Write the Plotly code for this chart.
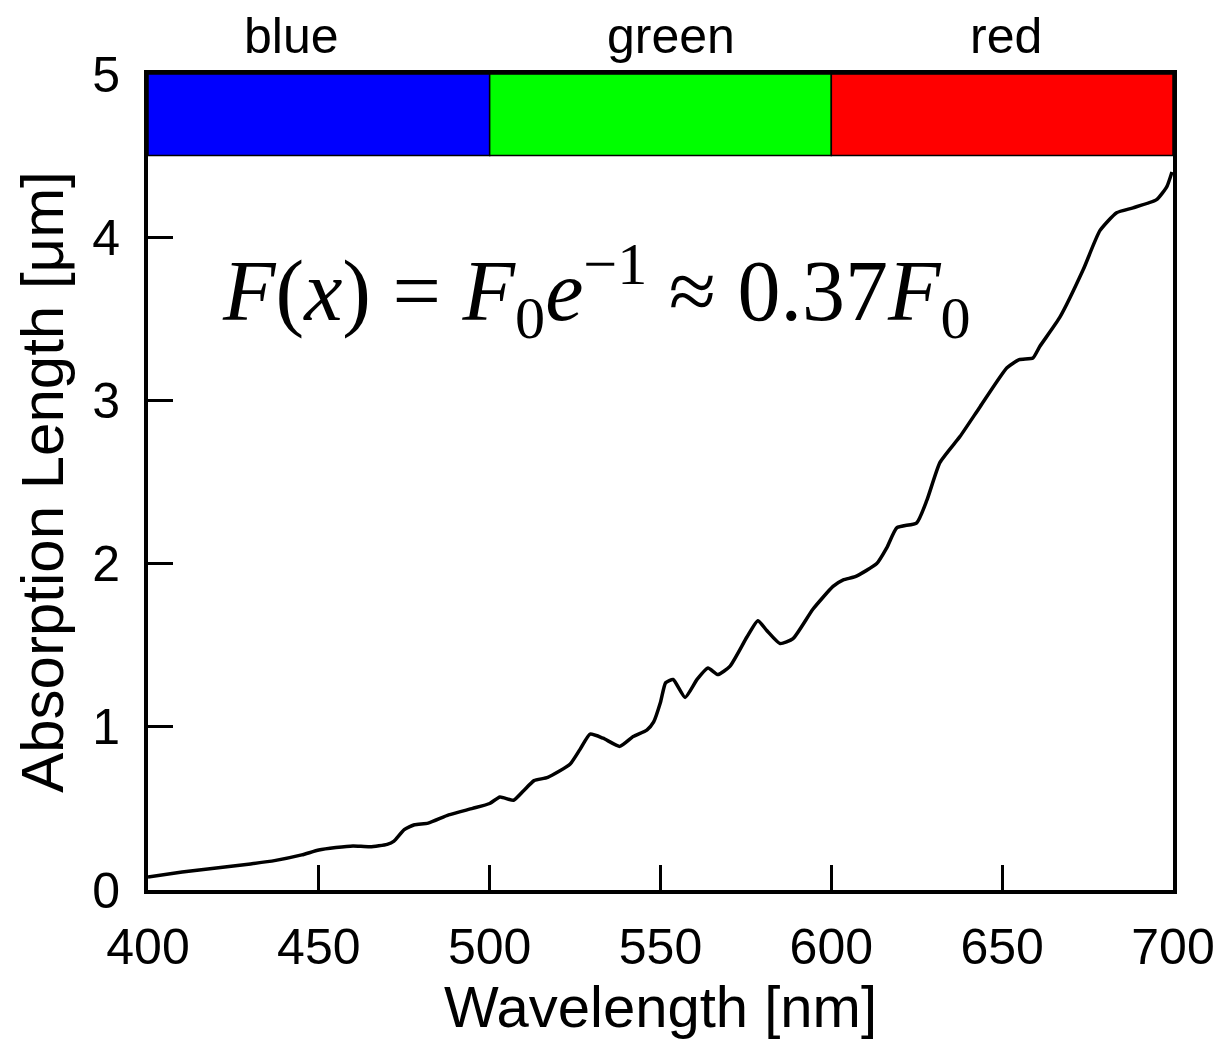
import plotly.graph_objects as go

wavelength = [400, 410, 420, 430, 437, 445, 450, 455, 460, 465, 470, 472, 475, 478, 482, 488,
              495, 500, 503, 507, 510, 513, 517, 523.5, 526.4, 529.4, 533.2, 538.1, 542, 546,
              548, 550, 551.5, 553.7, 557.2, 560.7, 563.9, 566.8, 570.3, 575.3, 578.5, 581.1,
              585, 588.8, 594.6, 600.5, 603.5, 607, 613.3, 616.3, 619.2, 625, 628, 631.8,
              637.7, 643.5, 651.4, 655, 659, 661, 666.9, 673.7, 678.6, 683.5, 688.3, 695.2,
              698.2, 699.7]
absorption = [0.08, 0.11, 0.135, 0.16, 0.18, 0.215, 0.245, 0.26, 0.27, 0.265, 0.28, 0.30, 0.37,
              0.40, 0.41, 0.46, 0.50, 0.53, 0.57, 0.55, 0.61, 0.67, 0.69, 0.77, 0.86, 0.955,
              0.93, 0.88, 0.94, 0.98, 1.03, 1.15, 1.27, 1.29, 1.18, 1.29, 1.36, 1.32, 1.37,
              1.55, 1.65, 1.59, 1.51, 1.54, 1.72, 1.86, 1.90, 1.92, 2.0, 2.10, 2.22, 2.25,
              2.39, 2.62, 2.78, 2.96, 3.20, 3.25, 3.26, 3.33, 3.51, 3.80, 4.04, 4.15, 4.18,
              4.23, 4.31, 4.40]

band_labels = ["blue", "green", "red"]
band_start = [400, 500, 600]
band_end = [500, 600, 700]
band_colors = ["#0000ff", "#00ff00", "#ff0000"]
band_label_x = [442, 553, 651]
band_bottom, band_top = 4.5, 5.0

x_ticks = [400, 450, 500, 550, 600, 650, 700]
y_ticks = [0, 1, 2, 3, 4, 5]

fig = go.Figure()
fig.add_trace(go.Scatter(x=wavelength, y=absorption, mode="lines",
                         line=dict(color="black", width=3.5, shape="spline", smoothing=0.5),
                         showlegend=False, hoverinfo="skip"))

for s, e, c, lab, lx in zip(band_start, band_end, band_colors, band_labels, band_label_x):
    fig.add_shape(type="rect", x0=s, x1=e, y0=band_bottom, y1=band_top,
                  xref="x", yref="y", fillcolor=c, line=dict(color="black", width=1.5),
                  layer="above")
    fig.add_annotation(x=lx, y=1.0, xref="x", yref="paper", yanchor="bottom", yshift=8,
                       text=lab, showarrow=False,
                       font=dict(family="Liberation Sans Narrow, Liberation Sans", size=50,
                                 color="black"))

fig.add_annotation(
    x=0.438, y=0.735, xref="paper", yref="paper", xanchor="center", yanchor="middle",
    text="<i>F</i>(<i>x</i>) = <i>F</i><sub>0</sub><i>e</i><sup>\u22121</sup> \u2248 0.37<i>F</i><sub>0</sub>",
    showarrow=False,
    font=dict(family="Liberation Serif", size=86, color="black"))

axis_font = dict(family="Liberation Sans", size=50, color="black")
fig.update_xaxes(range=[400, 700], tickvals=x_ticks, ticks="inside", ticklen=25, tickwidth=3,
                 tickcolor="black", showline=True, linewidth=4, linecolor="black",
                 mirror=True, showgrid=False, zeroline=False, tickfont=axis_font,
                 ticklabelstandoff=10,
                 title=dict(text="Wavelength [nm]",
                            font=dict(family="Liberation Sans", size=58, color="black"),
                            standoff=6))
fig.update_yaxes(range=[0, 5], tickvals=y_ticks, ticks="inside", ticklen=25, tickwidth=3,
                 tickcolor="black", showline=True, linewidth=4, linecolor="black",
                 mirror=True, showgrid=False, zeroline=False, tickfont=axis_font,
                 ticklabelstandoff=14,
                 title=dict(text="Absorption Length [\u03bcm]",
                            font=dict(family="Liberation Sans", size=60, color="black"),
                            standoff=10))

fig.update_layout(width=1226, height=1039, plot_bgcolor="white", paper_bgcolor="white",
                  margin=dict(l=148, r=53, t=74, b=149))

fig.write_html("out.html")
